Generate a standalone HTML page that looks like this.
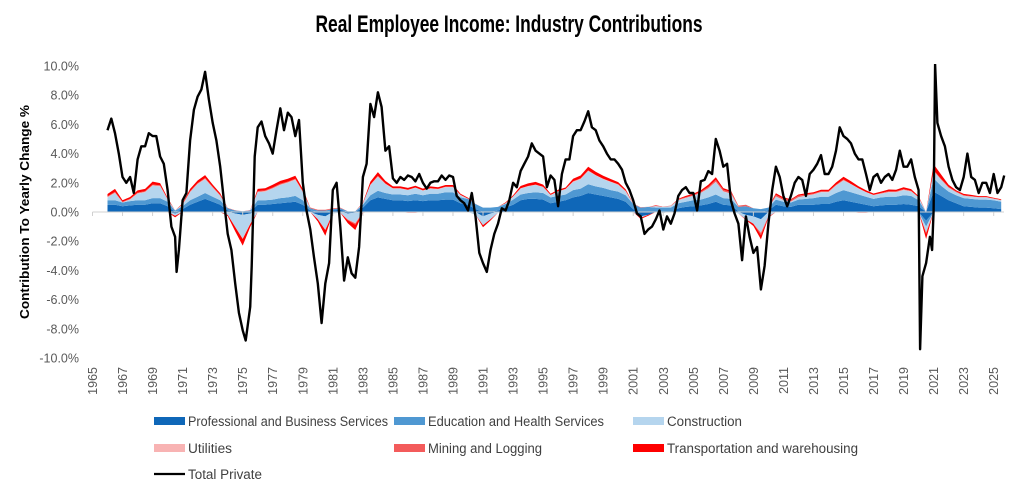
<!DOCTYPE html>
<html><head><meta charset="utf-8">
<style>
html,body{margin:0;padding:0;background:#fff;}
svg{display:block;font-family:"Liberation Sans",sans-serif;}
</style></head>
<body>
<svg id="chart" width="1018" height="498" viewBox="0 0 1018 498">
  <text x="509" y="32" text-anchor="middle" font-family="Liberation Sans Narrow, Liberation Sans, sans-serif" font-weight="bold" font-size="24" textLength="387" lengthAdjust="spacingAndGlyphs" fill="#000">Real Employee Income: Industry Contributions</text>
  <text transform="translate(29,212) rotate(-90)" text-anchor="middle" font-size="13" font-weight="bold" fill="#000" textLength="214" lengthAdjust="spacingAndGlyphs">Contribution To Yearly Change %</text>
  <g id="yticks"></g>
  <g id="xticks"></g>
  <defs><clipPath id="plotclip"><rect x="85" y="64" width="925" height="298"/></clipPath></defs>
  <g id="areas" clip-path="url(#plotclip)"></g>
  <line id="zeroline" stroke="#d0d0d0" stroke-width="1"/>
  <g id="zeroticks"></g>
  <g id="lines" clip-path="url(#plotclip)"></g>
  <g id="legend"></g>
</svg>
<script>
const yTicks = [10, 8, 6, 4, 2, 0, -2, -4, -6, -8, -10];
const xTickYears = [1965,1967,1969,1971,1973,1975,1977,1979,1981,1983,1985,1987,1989,1991,1993,1995,1997,1999,2001,2003,2005,2007,2009,2011,2013,2015,2017,2019,2021,2023,2025];
const seriesNames = ["Professional and Business Services","Education and Health Services","Construction","Utilities","Mining and Logging","Transportation and warehousing"];
const seriesColors = ["#0f67b8","#4f98d2","#b5d5ee","#f8b3b3","#f35b5b","#fe0000"];
const compStartYear = 1966;
const prof = [.5,.5,.4,.45,.5,.5,.6,.6,.4,-.1,.2,.5,.7,.9,.7,.5,.1,-.1,-.2,-.1,.5,.5,.55,.6,.65,.7,.5,.1,-.2,-.3,.1,.15,-.1,-.05,.3,.8,1.0,.9,.8,.8,.75,.8,.75,.8,.8,.85,.85,.6,.5,.2,-.3,-.1,.1,.3,.5,.8,.9,.9,.85,.6,.7,.8,1.0,1.1,1.3,1.2,1.1,1.0,.9,.7,.2,-.3,-.2,0,-.05,0,.25,.35,.4,.45,.55,.7,.5,.45,.05,-.2,-.3,-.5,.1,.5,.4,.35,.5,.5,.5,.55,.55,.7,.8,.7,.6,.5,.4,.45,.5,.5,.55,.5,.4,-.6,1.4,1.1,.8,.6,.4,.35,.3,.3,.25,.2];
const edu = [.3,.3,.25,.3,.3,.3,.35,.35,.3,.1,.2,.3,.35,.4,.35,.3,.15,.1,.05,.1,.3,.3,.3,.35,.35,.4,.3,.15,.1,.1,.1,.1,.05,.05,.2,.35,.45,.4,.4,.4,.4,.45,.4,.45,.45,.5,.5,.4,.4,.35,.3,.3,.25,.25,.35,.4,.4,.45,.45,.4,.4,.4,.5,.5,.6,.55,.55,.5,.5,.45,.35,.3,.35,.3,.3,.3,.35,.35,.4,.4,.45,.5,.45,.45,.3,.4,.25,.2,.2,.35,.3,.3,.35,.4,.45,.5,.5,.6,.7,.65,.6,.55,.5,.55,.55,.55,.6,.6,.4,-.4,.9,.7,.6,.55,.55,.55,.55,.55,.55,.5];
const construction = [.2,.5,0,.1,.45,.55,.85,.8,.15,-.15,.1,.55,.85,.95,.6,.3,-.2,-.9,-1.6,-.7,.55,.6,.75,.9,1.0,1.1,.55,0,-.3,-.9,-.1,-.05,-.4,-.7,.1,.7,.95,.6,.4,.4,.35,.4,.3,.35,.3,.35,.35,.15,0,-.2,-.6,-.4,-.05,.05,.2,.4,.45,.5,.4,.15,.3,.35,.55,.65,.9,.75,.6,.55,.45,.25,0,-.1,0,.1,.05,.1,.2,.25,.3,.45,.6,.85,.45,.35,-.1,-.3,-.5,-.9,-.3,.2,.1,.05,.15,.2,.25,.3,.3,.5,.65,.55,.4,.3,.25,.25,.3,.3,.35,.3,.2,-.4,.5,.4,.25,.2,.15,.15,.15,.15,.1,.1];
const utilities = [.03,.03,.02,.02,.03,.03,.03,.03,.02,0,.02,.03,.03,.03,.03,.02,0,-.03,-.05,-.03,.03,.03,.03,.03,.03,.03,.03,.01,0,-.03,0,0,-.02,-.03,0,.03,.03,.03,.03,.03,.03,.03,.03,.03,.03,.03,.03,.02,.02,.01,0,0,0,.01,.02,.03,.03,.03,.03,.02,.03,.03,.03,.03,.03,.03,.03,.03,.03,.02,.01,0,.01,.01,.01,.01,.02,.02,.02,.02,.02,.03,.02,.02,.01,0,-.01,-.03,0,.02,.02,.02,.02,.02,.02,.02,.02,.02,.03,.02,.02,.02,.02,.02,.02,.02,.02,.02,.01,0,.02,.02,.02,.01,.01,.01,.01,.01,.01,.01];
const mining = [.05,.05,.03,.04,.05,.05,.05,.05,.03,0,.03,.05,.05,.05,.05,.05,.03,.02,0,.03,.05,.05,.05,.05,.05,.05,.05,.05,.05,.05,.05,.05,-.05,-.1,-.05,0,.05,.02,0,0,-.05,-.05,0,0,0,0,0,0,0,0,0,0,0,0,0,0,0,0,0,0,0,0,.02,.02,.02,0,-.02,0,.02,.03,.03,.02,0,0,.02,.03,.05,.05,.05,.07,.1,.12,.1,.1,.08,.1,0,-.15,-.05,.1,.1,.1,.1,.08,.05,.05,.05,.05,.05,0,-.05,-.05,0,.03,.05,.05,.05,.03,0,-.1,.05,.05,.05,.05,.05,.03,.02,.02,.02,.02];
const transport = [.15,.2,.1,.12,.15,.15,.2,.15,.08,-.12,.05,.15,.18,.2,.15,.12,-.08,-.3,-.45,-.2,.15,.15,.18,.2,.2,.2,.15,0,-.15,-.4,0,0,-.2,-.35,.05,.2,.25,.18,.12,.12,.12,.12,.12,.12,.12,.12,.12,.08,.05,0,-.15,-.08,0,.05,.08,.15,.18,.18,.15,.08,.1,.1,.18,.2,.25,.22,.2,.18,.15,.1,0,-.08,-.05,.04,0,0,.04,.08,.08,.1,.15,.18,.12,.08,0,-.05,-.15,-.3,-.05,.12,.08,.05,.08,.08,.08,.1,.1,.15,.18,.18,.15,.12,.1,.1,.12,.1,.12,.12,.08,-.35,.4,.3,.15,.08,.08,.08,.06,.06,.05,.05];
const totalDates = [1966,1966.25,1966.5,1966.75,1967,1967.25,1967.5,1967.75,1968,1968.25,1968.5,1968.75,1969,1969.25,1969.5,1969.75,1970,1970.25,1970.5,1970.6,1970.75,1971,1971.25,1971.5,1971.75,1972,1972.25,1972.5,1972.75,1973,1973.25,1973.5,1973.75,1974,1974.25,1974.5,1974.75,1975,1975.2,1975.5,1975.6,1975.8,1976,1976.25,1976.5,1976.75,1977,1977.25,1977.5,1977.75,1978,1978.25,1978.5,1978.75,1979,1979.25,1979.5,1979.75,1980,1980.25,1980.5,1980.75,1981,1981.25,1981.5,1981.75,1982,1982.25,1982.5,1982.75,1983,1983.25,1983.5,1983.75,1984,1984.25,1984.5,1984.75,1985,1985.25,1985.5,1985.75,1986,1986.25,1986.5,1986.75,1987,1987.25,1987.5,1987.75,1988,1988.25,1988.5,1988.75,1989,1989.25,1989.5,1989.75,1990,1990.25,1990.5,1990.75,1991,1991.25,1991.5,1991.75,1992,1992.25,1992.5,1992.75,1993,1993.25,1993.5,1993.75,1994,1994.25,1994.5,1994.75,1995,1995.25,1995.5,1995.75,1996,1996.25,1996.5,1996.75,1997,1997.25,1997.5,1997.75,1998,1998.25,1998.5,1998.75,1999,1999.25,1999.5,1999.75,2000,2000.25,2000.5,2000.75,2001,2001.25,2001.5,2001.75,2002,2002.25,2002.5,2002.75,2003,2003.25,2003.5,2003.75,2004,2004.25,2004.5,2004.75,2005,2005.25,2005.5,2005.75,2006,2006.25,2006.5,2006.75,2007,2007.25,2007.5,2007.75,2008,2008.25,2008.5,2008.75,2009,2009.25,2009.5,2009.75,2010,2010.25,2010.5,2010.75,2011,2011.25,2011.5,2011.75,2012,2012.25,2012.5,2012.75,2013,2013.25,2013.5,2013.75,2014,2014.25,2014.5,2014.75,2015,2015.25,2015.5,2015.75,2016,2016.25,2016.5,2016.75,2017,2017.25,2017.5,2017.75,2018,2018.25,2018.5,2018.75,2019,2019.25,2019.5,2019.75,2020,2020.1,2020.25,2020.5,2020.75,2020.9,2021,2021.1,2021.25,2021.5,2021.75,2022,2022.25,2022.5,2022.75,2023,2023.25,2023.5,2023.75,2024,2024.25,2024.5,2024.75,2025,2025.25,2025.5,2025.7];
const totalValues = [5.6,6.4,5.4,4.0,2.4,2.0,2.4,1.3,3.6,4.5,4.5,5.4,5.2,5.2,3.8,3.3,1.5,-1.0,-1.7,-4.1,-2.6,0.8,1.3,4.9,7.0,7.9,8.4,9.6,7.7,6.1,4.9,3.1,0.8,-1.5,-2.6,-4.9,-6.9,-8.1,-8.8,-6.5,-3.7,3.8,5.8,6.2,5.2,4.7,4.0,5.6,7.1,5.6,6.8,6.5,5.2,6.3,2.0,0.1,-1.2,-3.1,-4.9,-7.6,-4.9,-3.5,1.5,2.0,-1.0,-4.7,-3.1,-4.2,-4.5,-2.4,2.4,3.3,7.4,6.5,8.2,7.2,4.2,4.5,2.3,2.0,2.4,2.2,2.5,2.4,2.1,2.6,2.0,1.6,2.0,2.1,2.1,2.5,2.2,2.5,2.4,1.1,0.8,0.6,0.1,1.3,-0.3,-2.8,-3.5,-4.1,-2.6,-1.5,-0.8,0.25,0.1,0.8,2.0,1.7,2.8,3.3,3.8,4.7,4.2,4.0,3.8,1.7,2.5,2.2,0.4,2.6,3.6,3.6,5.2,5.6,5.6,6.2,6.9,5.8,5.6,4.9,4.5,4.0,3.6,3.6,3.3,2.9,2.0,1.5,0.8,-0.1,-0.3,-1.5,-1.2,-1.0,-0.5,0.1,-1.2,-0.3,-0.8,-0.1,1.1,1.5,1.7,1.3,1.3,0.1,2.1,2.2,2.8,2.6,5.0,4.2,3.1,3.3,0.8,-0.1,-0.8,-3.3,-0.3,-1.7,-2.8,-2.4,-5.3,-3.7,-0.8,1.5,3.1,2.4,1.1,0.4,1.1,2.0,2.4,2.2,1.1,2.6,2.9,3.3,3.9,2.6,2.6,3.1,4.2,5.8,5.2,5.0,4.7,4.0,3.6,3.6,2.6,1.5,2.4,2.6,2.0,2.4,2.6,2.2,2.9,4.2,3.1,3.1,3.6,2.4,1.5,-9.4,-4.4,-3.5,-1.7,-2.6,0.1,10.1,6.1,5.2,4.5,3.1,2.2,1.7,1.5,2.4,4.0,2.4,2.2,1.3,2.0,2.0,1.3,2.6,1.3,1.7,2.5];

const NS = "http://www.w3.org/2000/svg";
const X0 = 92.5, PX_PER_YEAR = 15.02, Y0 = 212, PX_PER_PCT = 14.6;
function xScale(year){ return X0 + (year - 1965) * PX_PER_YEAR; }
function yScale(v){ return Y0 - v * PX_PER_PCT; }
function mk(tag, attrs, parent){ const e = document.createElementNS(NS, tag); for (const k in attrs) e.setAttribute(k, attrs[k]); parent.appendChild(e); return e; }

const yg = document.getElementById('yticks');
yTicks.forEach(v => {
  const t = mk('text', {x: 79, y: yScale(v) + 4.5, 'text-anchor': 'end', 'font-size': 12.5, fill: '#595959'}, yg);
  
  
  t.textContent = v.toFixed(1) + '%';
});
const xg = document.getElementById('xticks');
const zt = document.getElementById('zeroticks');
xTickYears.forEach(yr => {
  const x = xScale(yr);
  const t = mk('text', {transform: `translate(${x + 4.5},367) rotate(-90)`, 'text-anchor': 'end', 'font-size': 12.5, fill: '#595959'}, xg);
  
  
  t.textContent = yr;
  const tk = mk('line', {x1: x, x2: x, y1: Y0, y2: Y0 + 4, stroke: '#d0d0d0'}, zt);
  
  
});
const zl = document.getElementById('zeroline');
zl.setAttribute('x1', xScale(1965)); zl.setAttribute('x2', 1004);
zl.setAttribute('y1', Y0); zl.setAttribute('y2', Y0);

// stacked areas: positive parts stack up, negative parts stack down (continuous)
const comps = [prof, edu, construction, utilities, mining, transport];
const compDates = prof.map((_, i) => compStartYear + i * 0.5);
const n = compDates.length;
const posBase = new Array(n).fill(0), negBase = new Array(n).fill(0);
const ag = document.getElementById('areas');
function bandPath(lo, hi){
  let d = 'M' + hi.map((v, i) => xScale(compDates[i]).toFixed(1) + ',' + yScale(v).toFixed(1)).join('L');
  const back = [];
  for (let i = n - 1; i >= 0; i--) back.push(xScale(compDates[i]).toFixed(1) + ',' + yScale(lo[i]).toFixed(1));
  return d + 'L' + back.join('L') + 'Z';
}
comps.forEach((arr, si) => {
  const pLo = posBase.slice(), nLo = negBase.slice();
  for (let i = 0; i < n; i++) {
    posBase[i] += Math.max(arr[i], 0);
    negBase[i] += Math.min(arr[i], 0);
  }
  const slug = seriesNames[si].toLowerCase().replace(/ /g, '-');
  const p1 = mk('path', {d: bandPath(pLo, posBase.slice()), fill: seriesColors[si]}, ag);
  
  
  const p2 = mk('path', {d: bandPath(nLo, negBase.slice()), fill: seriesColors[si]}, ag);
  
  
});

const lg = document.getElementById('lines');
const pts = totalDates.map((d, i) => xScale(d).toFixed(1) + ',' + yScale(totalValues[i]).toFixed(1)).join(' ');
const pl = mk('polyline', {points: pts, fill: 'none', stroke: '#000', 'stroke-width': 2.4, 'stroke-linejoin': 'round'}, lg);



const leg = document.getElementById('legend');
const legendItems = seriesNames.concat(['Total Private']);
const colX = [154, 394, 633], rowY = [421, 448, 474];
const textW = [200, 176, 75, 44, 114, 191, 74];
legendItems.forEach((name, i) => {
  const cx = colX[i % 3], cy = rowY[Math.floor(i / 3)];
  const g = mk('g', {}, leg);
  
  
  if (i < 6) mk('rect', {x: cx, y: cy - 4, width: 31, height: 8, fill: seriesColors[i]}, g);
  else mk('line', {x1: cx, x2: cx + 31, y1: cy, y2: cy, stroke: '#000', 'stroke-width': 2.2}, g);
  const t = mk('text', {x: cx + 34, y: cy + 5, 'font-size': 13.5, fill: '#404040', textLength: textW[i], lengthAdjust: 'spacingAndGlyphs', 'font-family': 'Liberation Sans Narrow, Liberation Sans, sans-serif'}, g);
  t.textContent = name;
});
</script>
</body></html>
